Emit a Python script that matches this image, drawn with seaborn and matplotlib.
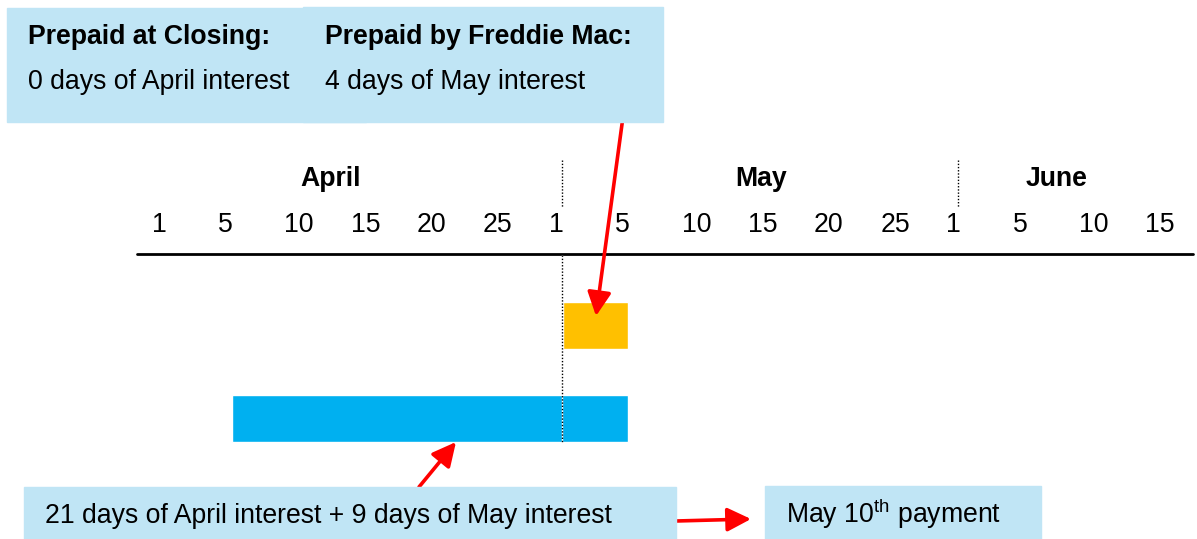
import numpy as np
import matplotlib
matplotlib.use("Agg")
import matplotlib.pyplot as plt
from matplotlib.patches import Rectangle
import seaborn as sns

# Timeline data (x in tick-slot units, one slot per day label)
months = ["April", "May", "June"]
month_centers = [2.70, 9.20, 13.67]
month_breaks = [6.19, 12.175]
day_ticks = ["1", "5", "10", "15", "20", "25",
             "1", "5", "10", "15", "20", "25",
             "1", "5", "10", "15"]

bar_names = ["Prepaid by Freddie Mac", "Interest period"]
bar_start = [6.21, 1.21]
bar_end = [7.19, 7.19]
bar_colors = ["#FFC000", "#00B0F0"]

box_color = "#C0E5F5"
W, H = 1197, 539
FS = 19.2

sns.set_theme(style="white")
plt.rcParams['font.family'] = ['Liberation Sans', 'DejaVu Sans']
plt.rcParams['text.color'] = 'black'
plt.rcParams['mathtext.fontset'] = 'custom'
plt.rcParams['mathtext.rm'] = 'Liberation Sans'
plt.rcParams['mathtext.it'] = 'Liberation Sans:italic'
plt.rcParams['mathtext.bf'] = 'Liberation Sans:bold'

fig = plt.figure(figsize=(W / 100, H / 100), dpi=100)
ax = fig.add_axes([0, 0, 1, 1])
ax.set_xlim(-152 / 66.2, (W - 152) / 66.2)
ax.set_ylim((H - 325.5) / 93, -325.5 / 93)
ax.axis("off")


def ff(x, y):
    # pixel position -> figure fraction
    return (x / W, 1 - y / H)


def box(x0, y0, x1, y1):
    fig.patches.append(Rectangle(ff(x0, y1), (x1 - x0) / W, (y1 - y0) / H,
                                 transform=fig.transFigure, color=box_color, zorder=0))


# bars
rows = np.arange(len(bar_names))
widths = np.array(bar_end) - np.array(bar_start)
ax.barh(rows, widths, left=bar_start, height=0.505, color=bar_colors, zorder=2)

# axis line and day labels
ax.axhline(-0.769, xmin=137 / W, xmax=1193 / W, color="black", lw=2, zorder=3)
for i, lab in enumerate(day_ticks):
    ax.text(i, -1.005, lab, ha="left", va="baseline", fontsize=FS, color="black")
for m, c in zip(months, month_centers):
    ax.text(c, -1.5, m, ha="center", va="baseline", fontsize=FS, fontweight="bold", color="black")

# month separators
ax.vlines(month_breaks, -1.78, -1.274, color="black", lw=1, linestyles=(0, (1, 1.3)), zorder=3)
ax.vlines(month_breaks[0], -0.758, 1.2527, color="white", lw=1, zorder=3)
ax.vlines(month_breaks[0], -0.758, 1.2527, color="black", lw=1, linestyles=(0, (1, 1.3)), zorder=4)

# top boxes
box(7, 8, 366, 122)
box(303, 7, 663, 122)
fig.text(*ff(28, 44), "Prepaid at Closing:", fontsize=FS, fontweight="bold", va="baseline", color="black")
fig.text(*ff(28, 89), "0 days of April interest", fontsize=FS, va="baseline", color="black")
fig.text(*ff(325, 44), "Prepaid by Freddie Mac:", fontsize=FS, fontweight="bold", va="baseline", color="black")
fig.text(*ff(325, 89), "4 days of May interest", fontsize=FS, va="baseline", color="black")

# bottom boxes
box(24, 487, 676, 539)
box(765, 486, 1041, 539)
fig.text(*ff(45, 523), "21 days of April interest + 9 days of May interest", fontsize=FS,
         va="baseline", color="black")
fig.text(*ff(786, 523), "May 10$^{\\rm th}$ payment", fontsize=FS, va="baseline", color="black")

# red arrows
arrow = dict(arrowstyle="-|>,head_length=1.2,head_width=0.6", color="red", lw=2.6,
             shrinkA=0, shrinkB=0)
for tail, tip in [((628, 80), (596, 316)), ((419, 487), (456, 442)), ((676, 521), (751, 519))]:
    ax.annotate("", xy=ff(*tip), xytext=ff(*tail), xycoords="figure fraction",
                textcoords="figure fraction", arrowprops=arrow, zorder=5)

plt.savefig("out.png", dpi=100)
